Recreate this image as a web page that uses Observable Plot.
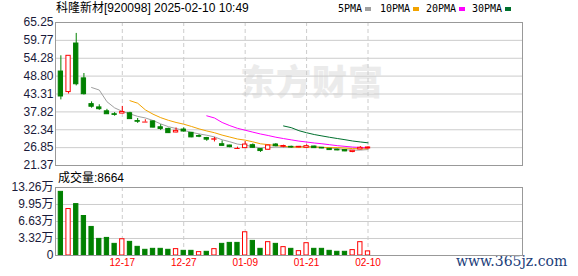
<!DOCTYPE html>
<html><head><meta charset="utf-8">
<script src="https://cdn.jsdelivr.net/npm/d3@7"></script>
<script src="https://cdn.jsdelivr.net/npm/@observablehq/plot@0.6"></script>
<style>
html,body{margin:0;padding:0;background:#fff;}
#wrap{position:relative;width:578px;height:276px;overflow:hidden;font-family:"Liberation Sans","Noto Sans CJK SC",sans-serif;color:#000;}
.abs{position:absolute;white-space:nowrap;line-height:1;}
.sq{position:absolute;width:6px;height:4px;}
.leg{position:absolute;font-family:"DejaVu Sans Mono",monospace;font-size:10px;line-height:12px;white-space:nowrap;}
#wm{left:240px;top:62px;font-family:"Noto Sans CJK SC",sans-serif;font-weight:900;font-size:35px;color:#ebebeb;letter-spacing:1px;}
svg{position:absolute;left:0;}
</style></head><body>
<div id="wrap">
  <div class="abs" id="wm">东方财富</div>
  <div class="abs" style="left:56px;top:2px;font-size:12px;">科隆新材[920098] 2025-02-10 10:49</div>
  <div id="legend"></div>
  <div class="abs" style="left:58px;top:172px;font-size:12px;">成交量:8664</div>
  <div class="abs" style="left:456px;top:254px;font-family:'DejaVu Serif',serif;font-size:14px;color:#22407a;">www.365jz.com</div>
</div>
<script>
const dates = ["12-05","12-06","12-09","12-10","12-11","12-12","12-13","12-16","12-17","12-18","12-19","12-20","12-23","12-24","12-25","12-26","12-27","12-30","12-31","01-02","01-03","01-06","01-07","01-08","01-09","01-10","01-13","01-14","01-15","01-16","01-17","01-20","01-21","01-22","01-23","01-24","01-27","02-05","02-06","02-07","02-10"];
const open  = [50.2,43.9,58.8,48.1,40.2,39.2,38.0,37.1,37.3,37.4,35.0,34.7,34.9,33.1,32.6,31.5,32.4,31.4,30.4,29.8,29.3,27.9,27.5,26.6,26.7,27.6,26.4,26.2,27.8,27.1,27.1,26.9,26.8,27.2,26.8,26.5,26.2,26.1,25.5,26.3,26.6];
const high  = [55.03,55.03,61.9,49.6,40.9,40.0,38.6,37.6,39.5,37.7,35.8,35.4,35.0,33.9,32.8,32.9,32.9,31.5,30.8,30.0,30.0,28.9,27.6,27.0,28.7,28.0,26.5,27.6,28.1,27.6,27.3,27.2,27.7,27.3,26.9,26.6,26.4,26.2,26.0,27.2,27.1];
const low   = [41.5,43.3,45.8,43.0,38.96,38.3,37.1,36.5,37.3,35.5,34.3,34.7,32.9,32.1,31.2,31.4,31.6,29.9,29.9,28.8,28.6,27.3,26.8,26.4,26.6,26.7,25.4,26.1,27.1,26.8,26.7,26.8,26.7,26.6,26.5,26.0,25.9,25.6,25.3,26.2,26.5];
const close = [42.55,55.03,46.3,43.25,39.4,38.65,37.1,36.9,37.8,35.6,34.8,34.7,33.0,32.6,31.3,32.0,31.8,30.0,30.2,29.3,29.4,27.4,27.0,26.6,27.8,26.8,25.8,27.5,27.3,27.35,26.9,27.1,27.3,26.7,26.6,26.1,26.0,25.7,25.9,26.8,26.9];
const volume = [12.41,9.06,10.02,7.70,5.57,3.24,3.43,2.27,3.17,2.66,1.69,1.11,1.30,1.30,1.11,1.24,0.91,0.91,0.66,0.72,1.24,2.27,2.46,2.46,4.53,2.85,1.30,2.60,2.27,1.63,1.30,0.85,2.40,1.30,1.30,0.91,0.72,0.72,1.05,2.60,0.80];
const priceTicks = [21.37,26.85,32.34,37.82,43.31,48.80,54.28,59.77,65.25];
const volTicks = [0,3.32,6.63,9.95,13.26];
const volTickLabels = ["0","3.32万","6.63万","9.95万","13.26万"];
const dateTicks = ["12-17","12-27","01-09","01-21","02-10"];
const maNames = ["5PMA","10PMA","20PMA","30PMA"];
const maPeriods = [5,10,20,30];
const maColors = ["#a0a0a0","#f2a300","#ff00ff","#00702e"];

const RED = "#ff0000", GREEN = "#008000";
const rows = dates.map((d,i)=>({
  i, date:d, open:open[i], high:high[i], low:low[i], close:close[i], vol:volume[i],
  up: close[i] >= open[i],
  volUp: i === 0 ? close[i] >= open[i] : close[i] >= close[i-1]
}));
const tickIdx = dateTicks.map(d => dates.indexOf(d));
const xDomain = [-0.7, 60.12];
const hw = 0.28;
const font = '"Liberation Sans","Noto Sans CJK SC",sans-serif';

// legend
const legend = document.getElementById("legend");
const legPos = [[338,365],[380,413],[426,459],[472,505]];
maNames.forEach((n,j)=>{
  const t = document.createElement("div");
  t.className="leg"; t.style.left=legPos[j][0]+"px"; t.style.top="3px"; t.textContent=n;
  legend.appendChild(t);
  const s = document.createElement("div");
  s.className="sq"; s.style.left=legPos[j][1]+"px"; s.style.top="7px"; s.style.background=maColors[j];
  legend.appendChild(s);
});

const price = Plot.plot({
  width: 578, height: 170,
  marginLeft: 55, marginRight: 56, marginTop: 22, marginBottom: 5,
  style: {background:"transparent", fontSize:"12px", fontFamily:font, color:"#1a1a3a", overflow:"visible"},
  x: {domain: xDomain, axis: null},
  y: {domain: [21.37, 65.25], ticks: priceTicks, tickFormat: d => d.toFixed(2), tickSize: 0, tickPadding: 2, label: null},
  color: {type: "identity"},
  marks: [
    Plot.ruleY(priceTicks, {stroke:"#cccccc"}),
    Plot.ruleX(tickIdx, {stroke:"#cccccc", strokeDasharray:"4,3"}),
    ...maPeriods.map((k,j)=> Plot.lineY(rows, Plot.windowY({k, anchor:"end", strict:true}, {x:"i", y:"close", stroke: maColors[j], strokeWidth:1}))),
    Plot.ruleX(rows, {x:"i", y1:"low", y2:"high", stroke: d => d.up ? RED : GREEN}),
    Plot.rect(rows.filter(d => d.open !== d.close), {x1: d => d.i - hw, x2: d => d.i + hw, y1:"open", y2:"close", fill: d => d.up ? "#ffffff" : GREEN, stroke: d => d.up ? RED : GREEN}),
    Plot.ruleY(rows.filter(d => d.open === d.close), {y:"close", x1: d => d.i - hw - 0.07, x2: d => d.i + hw + 0.07, stroke: RED}),
    Plot.frame({stroke:"#999999"})
  ]
});
price.style.top = "0px";
document.getElementById("wrap").appendChild(price);

const vol = Plot.plot({
  width: 578, height: 100,
  marginLeft: 55, marginRight: 56, marginTop: 11, marginBottom: 21,
  style: {background:"transparent", fontSize:"12px", fontFamily:font, color:"#1a1a3a", overflow:"visible"},
  x: {domain: xDomain, axis: null},
  y: {domain: [0, 13.26], ticks: volTicks, tickFormat: d => volTickLabels[volTicks.indexOf(d)], tickSize: 0, tickPadding: 2, label: null},
  color: {type: "identity"},
  marks: [
    Plot.ruleY(volTicks, {stroke:"#cccccc"}),
    Plot.ruleX(tickIdx, {stroke:"#cccccc", strokeDasharray:"4,3"}),
    Plot.rect(rows, {x1: d => d.i - hw, x2: d => d.i + hw, y1: 0, y2: "vol", fill: d => d.volUp ? "#ffffff" : GREEN, stroke: d => d.volUp ? RED : GREEN}),
    Plot.frame({stroke:"#999999"}),
    Plot.text(tickIdx, {x: d => d, text: d => dates[d], frameAnchor: "bottom", dy: 10, fill: RED, fontSize: 10, fontFamily: font})
  ]
});
vol.style.top = "176px";
document.getElementById("wrap").appendChild(vol);
</script>
</body></html>
